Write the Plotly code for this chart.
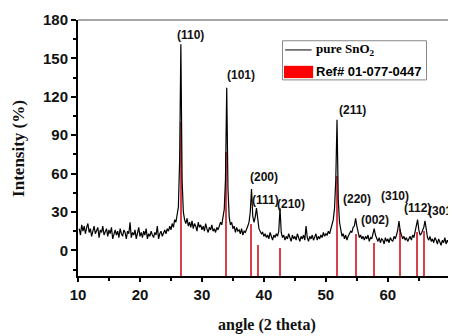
import numpy as np
import plotly.graph_objects as go

# ---------------- data ----------------
angle_start = 10.2
angle_step = 0.2
intensity = [
    17, 12, 20, 15, 19, 13, 18, 21, 14, 17,      # 10.2-12.0
    11, 16, 19, 13, 15, 18, 10, 16, 14, 19,      # 12.2-14.0
    12, 15, 17, 11, 16, 13, 18, 9, 14, 16,       # 14.2-16.0
    12, 15, 10, 17, 13, 11, 16, 14, 9, 15,       # 16.2-18.0
    13, 22, 10, 14, 12, 16, 9, 13, 18, 11,       # 18.2-20.0
    14, 10, 15, 12, 17, 9, 13, 11, 15, 12,       # 20.2-22.0
    10, 14, 12, 19, 9, 13, 15, 11, 14, 16,       # 22.2-24.0
    13, 17, 15, 19, 16, 21, 18, 24, 22, 30,      # 24.2-26.0
    34, 70, 161, 55, 30, 24, 21, 25, 19, 22,     # 26.2-28.0
    18, 23, 17, 21, 19, 15, 22, 18, 20, 16,      # 28.2-30.0
    19, 15, 21, 17, 14, 18, 16, 20, 15, 17,      # 30.2-32.0
    14, 18, 16, 19, 22, 20, 25, 32, 55, 127,     # 32.2-34.0
    48, 26, 20, 22, 17, 19, 14, 18, 15, 16,      # 34.2-36.0
    13, 17, 12, 15, 14, 16, 19, 22, 30, 48,      # 36.2-38.0
    27, 22, 26, 33, 24, 17, 15, 13, 14, 11,      # 38.2-40.0
    13, 10, 12, 9, 14, 11, 8, 12, 10, 13,        # 40.2-42.0
    11, 15, 33, 14, 10, 12, 8, 11, 9, 13,        # 42.2-44.0
    10, 7, 12, 9, 11, 8, 13, 10, 7, 11,          # 44.2-46.0
    9, 12, 8, 19, 10, 7, 11, 9, 12, 8,           # 46.2-48.0
    10, 13, 8, 11, 9, 12, 10, 14, 11, 13,        # 48.2-50.0
    12, 15, 13, 17, 19, 24, 33, 55, 102, 40,     # 50.2-52.0
    22, 15, 11, 13, 9, 12, 8, 11, 13, 15,        # 52.2-54.0
    14, 18, 19, 25, 19, 13, 10, 12, 9, 11,       # 54.2-56.0
    8, 11, 9, 12, 7, 10, 9, 13, 17, 12,          # 56.2-58.0
    9, 7, 10, 6, 9, 8, 5, 10, 7, 9,              # 58.2-60.0
    6, 10, 8, 7, 11, 9, 12, 16, 23, 15,          # 60.2-62.0
    12, 9, 11, 8, 10, 7, 9, 11, 8, 12,           # 62.2-64.0
    10, 14, 18, 24, 16, 12, 13, 15, 18, 23,      # 64.2-66.0
    15, 10, 8, 11, 7, 9, 6, 10, 8, 5,            # 66.2-68.0
    9, 7, 4, 8, 6, 10, 5, 8, 6,                  # 68.2-69.8
]
angles = np.round(angle_start + angle_step * np.arange(len(intensity)), 2)

ref_pos = [26.6, 33.9, 37.95, 39.0, 42.6, 51.8, 54.8, 57.8, 61.9, 64.7, 65.9]
ref_int = [100, 77, 21, 4, 1.5, 58, 13, 6, 17, 14, 15]

hkl_labels = ["(110)", "(101)", "(200)", "(111)", "(210)", "(211)",
              "(220)", "(002)", "(310)", "(112)", "(301)"]

x_ticks = [10, 20, 30, 40, 50, 60, 70]
y_ticks = [0, 30, 60, 90, 120, 150, 180]

# ---------------- layout constants ----------------
Y_MIN, Y_MAX = -20, 180
X_MIN, X_MAX = 10, 71
label_x = [28.15, 36.34, 39.95, 40.3, 44.45, 54.27, 55.1, 57.9, 61.15, 64.85, 68.75]
label_y = [168, 136.7, 57.3, 39.6, 36.5, 110, 40.0, 23.5, 42.5, 32.8, 30.5]

fig = go.Figure()

fig.add_trace(go.Scatter(
    x=angles, y=intensity, mode="lines",
    line=dict(color="black", width=1.2),
    name="pure SnO<sub>2</sub>", showlegend=False,
))

fig.add_trace(go.Bar(
    x=ref_pos, y=[v - Y_MIN for v in ref_int], base=Y_MIN,
    width=0.18, marker=dict(color="#d8404c", line=dict(width=0)),
    name="Ref# 01-077-0447", showlegend=False,
))

for t, xx, yy in zip(hkl_labels, label_x, label_y):
    fig.add_annotation(x=xx, y=yy, text=t, showarrow=False,
                       xref="x", yref="y",
                       font=dict(family="Liberation Sans", size=12,
                                 color="#111", weight="bold"))

# manual legend
fig.add_shape(type="rect", xref="paper", yref="paper",
              x0=0.541, x1=0.922, y0=0.766, y1=0.919,
              line=dict(color="#888", width=1), fillcolor="white")
fig.add_shape(type="line", xref="paper", yref="paper",
              x0=0.548, x1=0.618, y0=0.883, y1=0.883,
              line=dict(color="black", width=1))
fig.add_shape(type="rect", xref="paper", yref="paper",
              x0=0.545, x1=0.622, y0=0.773, y1=0.821,
              line=dict(width=0), fillcolor="#ff0000")
fig.add_annotation(xref="paper", yref="paper", x=0.624, y=0.883,
                   xanchor="left", yanchor="middle", showarrow=False,
                   text="pure SnO<sub>2</sub>",
                   font=dict(family="Liberation Serif", size=13,
                             color="black", weight="bold"))
fig.add_annotation(xref="paper", yref="paper", x=0.624, y=0.797,
                   xanchor="left", yanchor="middle", showarrow=False,
                   text="Ref# 01-077-0447",
                   font=dict(family="Liberation Sans", size=13,
                             color="black", weight="bold"))

# axis titles
fig.add_annotation(xref="paper", yref="paper", x=0.5, y=-0.191,
                   xanchor="center", yanchor="middle", showarrow=False,
                   text="angle (2 theta)",
                   font=dict(family="Liberation Serif", size=16,
                             color="#111", weight="bold"))
fig.add_annotation(xref="paper", yref="paper", x=-0.159, y=0.5,
                   xanchor="center", yanchor="middle", showarrow=False,
                   text="Intensity (%)", textangle=-90,
                   font=dict(family="Liberation Serif", size=17,
                             color="#111", weight="bold"))

# top frame line
fig.add_shape(type="line", xref="paper", yref="paper",
              x0=0, x1=1, y0=1, y1=1, line=dict(color="#888", width=1.5))

tick_font = dict(family="Liberation Sans", size=15, color="#111", weight="bold")

fig.update_layout(
    width=448, height=328,
    margin=dict(l=70, r=0, t=12, b=60),
    paper_bgcolor="white", plot_bgcolor="white",
    bargap=0, showlegend=False,
    xaxis=dict(
        range=[X_MIN, X_MAX], tickmode="array", tickvals=x_ticks,
        showgrid=False, zeroline=False, automargin=False,
        showline=True, linecolor="black", linewidth=2,
        ticks="outside", ticklen=4, tickwidth=1.5, tickcolor="black",
        minor=dict(tickvals=[15, 25, 35, 45, 55, 65], ticklen=3,
                   tickwidth=1.5, tickcolor="black", ticks="outside"),
        tickfont=tick_font,
    ),
    yaxis=dict(
        range=[Y_MIN, Y_MAX], tickmode="array", tickvals=y_ticks,
        showgrid=False, zeroline=False, automargin=False,
        showline=True, linecolor="black", linewidth=2,
        ticks="outside", ticklen=5, tickwidth=1.5, tickcolor="black",
        minor=dict(tickvals=[-15, 15, 45, 75, 105, 135, 165], ticklen=3,
                   tickwidth=1.5, tickcolor="black", ticks="outside"),
        tickfont=tick_font,
    ),
)

fig.write_html("out.html")
